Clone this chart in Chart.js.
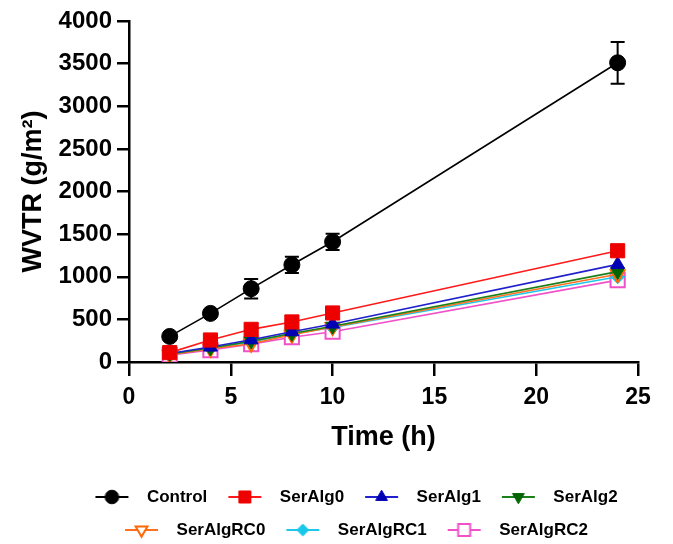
<!DOCTYPE html>
<html>
<head>
<meta charset="utf-8">
<script src="https://cdn.jsdelivr.net/npm/chart.js@4/dist/chart.umd.min.js"></script>
<style>
  html, body { margin: 0; padding: 0; background: #fff; }
  canvas { display: block; }
</style>
</head>
<body>
<canvas id="c" width="673" height="544"></canvas>
<script>
// ---- data ----
const timeHours = [2, 4, 6, 8, 10, 24];
const seriesNames = ['Control', 'SerAlg0', 'SerAlg1', 'SerAlg2', 'SerAlgRC0', 'SerAlgRC1', 'SerAlgRC2'];
const controlValues   = [300, 570, 860, 1140, 1410, 3510];
const controlErrors   = [20, 30, 115, 95, 95, 245];
const serAlg0Values   = [110, 258, 383, 470, 575, 1305];
const serAlg1Values   = [100, 175, 260, 355, 445, 1145];
const serAlg2Values   = [95, 165, 245, 335, 420, 1060];
const serAlgRC0Values = [85, 155, 215, 320, 410, 1030];
const serAlgRC1Values = [90, 160, 235, 330, 405, 1000];
const serAlgRC2Values = [80, 140, 210, 290, 355, 960];
const xTicks = [0, 5, 10, 15, 20, 25];
const yTicks = [0, 500, 1000, 1500, 2000, 2500, 3000, 3500, 4000];

// ---- styles ----
const FONT = '"Liberation Sans", Arial, Helvetica, sans-serif';
const styles = [
  { line: '#000000', fill: '#000000', border: '#000000', shape: 'circle',   r: 8,  rot: 0,   bw: 1 },
  { line: '#ff1a1a', fill: '#ee0000', border: '#ee0000', shape: 'rect',     r: 10, rot: 0,   bw: 1 },
  { line: '#2020cc', fill: '#0000b4', border: '#0000b4', shape: 'triangle', r: 8,  rot: 0,   bw: 1 },
  { line: '#1a801a', fill: '#006400', border: '#006400', shape: 'triangle', r: 8,  rot: 180, bw: 1 },
  { line: '#ff7020', fill: '#ffffff', border: '#ff6600', shape: 'triangle', r: 8,  rot: 180, bw: 2 },
  { line: '#20c8e8', fill: '#18c8ea', border: '#18c8ea', shape: 'rectRot',  r: 7,  rot: 0,   bw: 1 },
  { line: '#f050c8', fill: '#ffffff', border: '#f050c8', shape: 'rect',     r: 10, rot: 0,   bw: 2 }
];
const allValues = [controlValues, serAlg0Values, serAlg1Values, serAlg2Values,
                   serAlgRC0Values, serAlgRC1Values, serAlgRC2Values];

const datasets = seriesNames.map((name, i) => ({
  label: name,
  data: timeHours.map((t, k) => ({ x: t, y: allValues[i][k] })),
  borderColor: styles[i].line,
  borderWidth: 1.6,
  pointStyle: styles[i].shape,
  pointRotation: styles[i].rot,
  pointRadius: styles[i].r,
  pointBackgroundColor: styles[i].fill,
  pointBorderColor: styles[i].border,
  pointBorderWidth: styles[i].bw,
  tension: 0,
  fill: false
}));

// legend icons: line with marker
function makeIcon(st) {
  const cv = document.createElement('canvas');
  cv.width = 48; cv.height = 22;
  const g = cv.getContext('2d');
  g.strokeStyle = st.line; g.lineWidth = 2;
  g.beginPath(); g.moveTo(5, 11); g.lineTo(38, 11); g.stroke();
  g.fillStyle = st.fill; g.strokeStyle = st.border; g.lineWidth = st.bw;
  Chart.helpers.drawPoint(g, { pointStyle: st.shape, radius: st.r * 0.85, rotation: st.rot, borderWidth: st.bw }, 21.5, 11);
  return cv;
}
const icons = styles.map(makeIcon);

// error bars for Control
const errorBars = {
  id: 'errorBars',
  beforeDatasetsDraw(chart) {
    const { ctx, scales: { x, y } } = chart;
    ctx.save();
    ctx.strokeStyle = '#000'; ctx.lineWidth = 2;
    timeHours.forEach((t, k) => {
      const px = x.getPixelForValue(t);
      const top = y.getPixelForValue(controlValues[k] + controlErrors[k]);
      const bot = y.getPixelForValue(controlValues[k] - controlErrors[k]);
      ctx.beginPath();
      ctx.moveTo(px, top); ctx.lineTo(px, bot);
      ctx.moveTo(px - 7, top); ctx.lineTo(px + 7, top);
      ctx.moveTo(px - 7, bot); ctx.lineTo(px + 7, bot);
      ctx.stroke();
    });
    ctx.restore();
  }
};

const legendShift = {
  id: 'legendShift',
  afterLayout(chart) {
    if (chart.legend) { chart.legend.left += 35; chart.legend.right += 35; }
  }
};

Chart.defaults.font.family = FONT;
Chart.defaults.color = '#000';

new Chart(document.getElementById('c'), {
  type: 'line',
  data: { datasets },
  plugins: [errorBars, legendShift],
  options: {
    responsive: false,
    animation: false,
    layout: { padding: { top: 21, right: 35, left: 0, bottom: 0 } },
    plugins: {
      tooltip: { enabled: false },
      legend: {
        position: 'bottom',
        maxHeight: 71.5,
        labels: {
          usePointStyle: true,
          pointStyleWidth: 48,
          padding: 16,
          color: '#000',
          font: { size: 17, weight: 'bold', family: FONT },
          generateLabels: (chart) => chart.data.datasets.map((ds, i) => ({
            text: ds.label, pointStyle: icons[i], datasetIndex: i, hidden: false,
            fillStyle: 'transparent', strokeStyle: 'transparent', lineWidth: 0, fontColor: '#000'
          }))
        }
      }
    },
    scales: {
      x: {
        type: 'linear', min: 0, max: 25,
        afterBuildTicks: (s) => { s.ticks = xTicks.map(v => ({ value: v })); },
        afterFit: (s) => { s.height = 110.5; },
        border: { color: '#000', width: 2.5 },
        grid: { drawOnChartArea: false, drawTicks: true, tickLength: 14, color: '#000', lineWidth: 2.5 },
        ticks: { color: '#000', padding: 8, font: { size: 23, weight: 'bold', family: FONT }, maxRotation: 0,
                 callback: (v) => String(v) },
        title: { display: true, text: 'Time (h)', color: '#000', font: { size: 27, weight: 'bold', family: FONT }, padding: { top: 0, bottom: 19 } }
      },
      y: {
        type: 'linear', min: 0, max: 4000,
        afterBuildTicks: (s) => { s.ticks = yTicks.map(v => ({ value: v })); },
        afterFit: (s) => { s.width = 129; },
        border: { color: '#000', width: 2.5 },
        grid: { drawOnChartArea: false, drawTicks: true, tickLength: 12, color: '#000', lineWidth: 2.5 },
        ticks: { color: '#000', padding: 5, font: { size: 24, weight: 'bold', family: FONT },
                 callback: (v) => String(v) },
        title: { display: true, text: 'WVTR (g/m²)', color: '#000', font: { size: 27, weight: 'bold', family: FONT }, padding: { top: 17, bottom: 0 } }
      }
    }
  }
});
</script>
</body>
</html>
